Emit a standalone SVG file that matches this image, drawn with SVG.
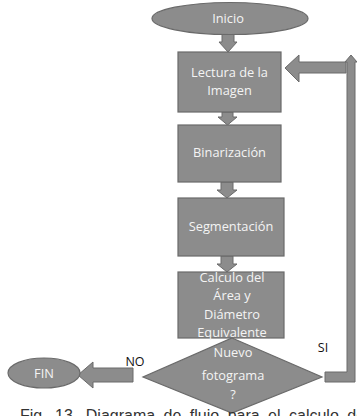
<svg xmlns="http://www.w3.org/2000/svg" width="357" height="416" viewBox="0 0 357 416">
<style>
.shape{fill:#8c8c8c;stroke:#6a6a6a;stroke-width:1.2}
.arrow{fill:#8c8c8c;stroke:#6a6a6a;stroke-width:1}
.t{font-family:"Open Sans","Noto Sans",sans-serif;font-size:12.8px;fill:#f4f4f4;text-anchor:middle}
.lbl{font-family:"Open Sans","Noto Sans",sans-serif;font-size:12.5px;fill:#111;text-anchor:middle}
.cap{font-family:"Liberation Sans",Arial,sans-serif;font-size:16px;fill:#333;word-spacing:4px}
</style>
<rect width="357" height="416" fill="#fff"/>
<g id="connectors">
  <polygon class="arrow" points="222,34 234,34 234,42 237,42 228,52 219,42 222,42"/>
  <polygon class="arrow" points="222,112 233,112 233,117 237,117 227.5,125 218,117 222,117"/>
  <polygon class="arrow" points="221,182 233,182 233,190 237,190 227,198 217,190 221,190"/>
  <polygon class="arrow" points="221,256 233,256 233,264 237,264 227,272 217,264 221,264"/>
  <polygon class="arrow" points="133,368 133,382 93,382 93,388 78,375 93,362 93,368"/>
  <polygon class="arrow" points="325,372 347,372 347,62 345,62 351,55 357,62 355,62 355,382 325,382"/>
  <polygon class="arrow" points="346,62 299,62 299,55 285,68 299,82 299,73 346,73"/>
</g>
<g id="inicio">
  <ellipse class="shape" cx="230" cy="18.5" rx="78" ry="16"/>
  <text class="t" x="228" y="23">Inicio</text>
</g>
<g id="lectura">
  <rect class="shape" x="178" y="52" width="103" height="60"/>
  <text class="t" x="229.5" y="77">Lectura de la</text>
  <text class="t" x="229.5" y="95">Imagen</text>
</g>
<g id="binarizacion">
  <rect class="shape" x="178" y="125" width="103" height="57"/>
  <text class="t" x="229.5" y="157">Binarización</text>
</g>
<g id="segmentacion">
  <rect class="shape" x="178" y="198" width="106" height="58"/>
  <text class="t" x="231" y="231">Segmentación</text>
</g>
<g id="calculo">
  <rect class="shape" x="178" y="272" width="106" height="66"/>
  <text class="t" x="232" y="282">Calculo del</text>
  <text class="t" x="232" y="300">Área y</text>
  <text class="t" x="232" y="319">Diámetro</text>
  <text class="t" x="232" y="337">Equivalente</text>
</g>
<g id="decision">
  <polygon class="shape" points="232,338 322,377 232,413 143,377"/>
  <text class="t" x="233" y="357">Nuevo</text>
  <text class="t" x="233" y="380">fotograma</text>
  <text class="t" x="233" y="399">?</text>
</g>
<g id="fin">
  <ellipse class="shape" cx="44" cy="373" rx="36" ry="15"/>
  <text class="t" x="44" y="378">FIN</text>
</g>
<text class="lbl" x="135" y="366">NO</text>
<text class="lbl" x="323" y="352">SI</text>
<text class="cap" x="20" y="421">Fig. 13. Diagrama de flujo para el calculo del</text>
</svg>
